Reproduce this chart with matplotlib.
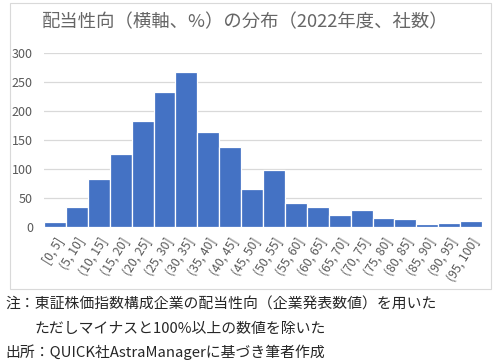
import matplotlib.pyplot as plt
from matplotlib.patches import Rectangle

plt.rcParams['font.family'] = ['Noto Sans CJK JP', 'DejaVu Sans']

# Data
bins = ['[0, 5]', '(5, 10]', '(10, 15]', '(15, 20]', '(20, 25]', '(25, 30]',
        '(30, 35]', '(35, 40]', '(40, 45]', '(45, 50]', '(50, 55]', '(55, 60]',
        '(60, 65]', '(65, 70]', '(70, 75]', '(75, 80]', '(80, 85]', '(85, 90]',
        '(90, 95]', '(95, 100]']
counts = [8, 35, 82, 126, 183, 232, 267, 163, 138, 66, 98, 41,
          35, 21, 29, 16, 14, 5, 7, 10]
yticks = [0, 50, 100, 150, 200, 250, 300]

title = '配当性向（横軸、%）の分布（2022年度、社数）'
note1 = '注：東証株価指数構成企業の配当性向（企業発表数値）を用いた'
note2 = 'ただしマイナスと100%以上の数値を除いた'
source = '出所：QUICK社AstraManagerに基づき筆者作成'

bar_color = '#4472C4'
grey = '#595959'

fig = plt.figure(figsize=(5, 3.62), dpi=100)
ax = fig.add_axes([0.088, 0.373, 0.876, 0.481])

# chart frame
fig.patches.append(Rectangle((10 / 500, 1 - 289 / 362), 481 / 500, 286 / 362,
                             transform=fig.transFigure, fill=False,
                             edgecolor='#D9D9D9', linewidth=0.8))

x = range(len(bins))
ax.bar(x, counts, width=1.0, color=bar_color, edgecolor='white', linewidth=0.9, zorder=3)

ax.set_xlim(-0.5, len(bins) - 0.5)
ax.set_ylim(0, 300)
ax.set_yticks(yticks)
ax.yaxis.grid(True, color='#D9D9D9', linewidth=0.9, zorder=0)
ax.set_xticks(list(x))
ax.set_xticklabels(bins, rotation=58, ha='right', rotation_mode='anchor',
                   fontsize=8.8, color=grey)
ax.tick_params(axis='both', length=0)
ax.tick_params(axis='x', pad=6)
ax.tick_params(axis='y', pad=8, labelsize=9, labelcolor=grey)
for s in ax.spines.values():
    s.set_visible(False)

fig.text(0.49, 1 - 22 / 362, title, ha='center', va='center', fontsize=13.2, color='#666666')

fig.text(5 / 500, 1 - 305 / 362, note1, ha='left', va='center', fontsize=10.7, color='#262626')
fig.text(35 / 500, 1 - 329 / 362, note2, ha='left', va='center', fontsize=10.7, color='#262626')
fig.text(5 / 500, 1 - 352 / 362, source, ha='left', va='center', fontsize=10.7, color='#262626')

fig.savefig('out.png', dpi=100)
